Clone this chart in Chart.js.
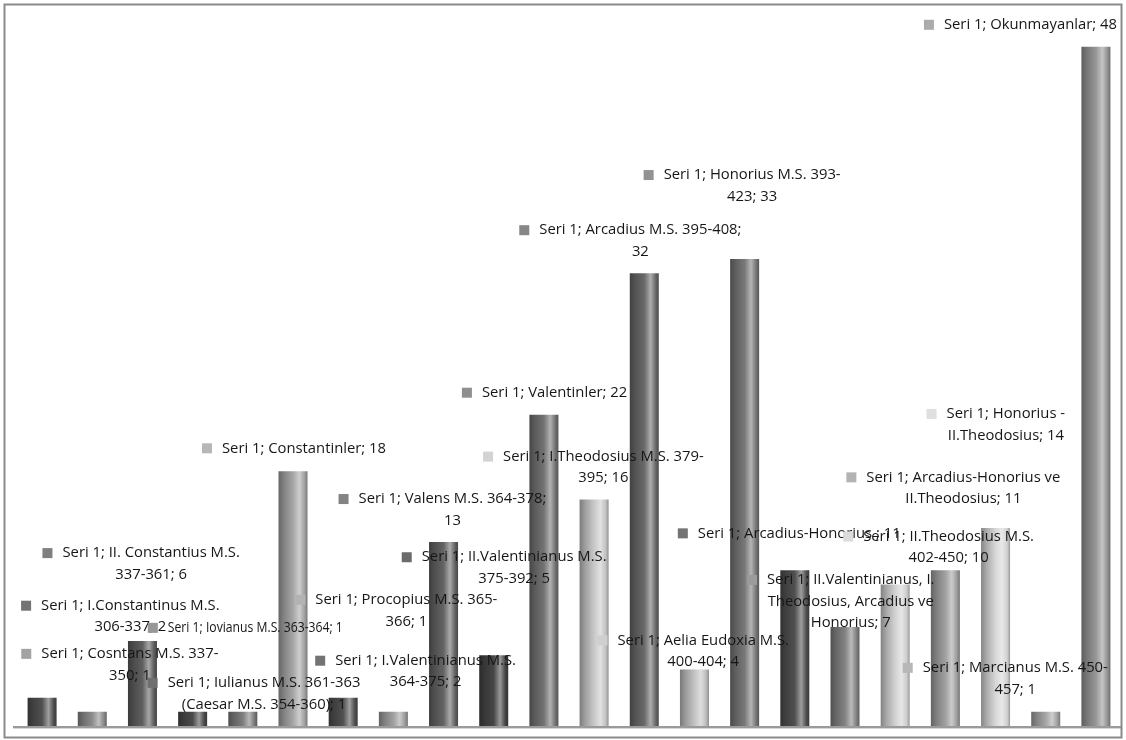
<!DOCTYPE html>
<html lang="tr">
<head>
<meta charset="utf-8">
<title>Seri 1</title>
<script src="https://cdn.jsdelivr.net/npm/chart.js@4.4.1/dist/chart.umd.min.js"></script>
<style>
    html, body { margin: 0; padding: 0; background: #fff; }
    canvas { display: block; }
</style>
</head>
<body>
<canvas id="barChart" width="1126" height="740"></canvas>
<script>
// Seri 1 – dönemlere göre sikke sayıları (silindir sütun grafik)

const seriAdi = "Seri 1";

const kategoriler = [
    "I.Constantinus M.S. 306-337",
    "Cosntans M.S. 337-350",
    "II. Constantius M.S. 337-361",
    "Iulianus M.S. 361-363 (Caesar M.S. 354-360)",
    "Iovianus M.S. 363-364",
    "Constantinler",
    "I.Valentinianus M.S. 364-375",
    "Procopius M.S. 365-366",
    "Valens M.S. 364-378",
    "II.Valentinianus M.S. 375-392",
    "Valentinler",
    "I.Theodosius M.S. 379-395",
    "Arcadius M.S. 395-408",
    "Aelia Eudoxia M.S. 400-404",
    "Honorius M.S. 393-423",
    "Arcadius-Honorius ",
    "II.Valentinianus, I. Theodosius, Arcadius ve Honorius",
    "II.Theodosius M.S. 402-450",
    "Arcadius-Honorius ve II.Theodosius",
    "Honorius - II.Theodosius",
    "Marcianus M.S. 450-457",
    "Okunmayanlar"
];

const degerler = [2, 1, 6, 1, 1, 18, 2, 1, 13, 5, 22, 16, 32, 4, 33, 11, 7, 10, 11, 14, 1, 48];

// etiket metinleri (Excel'deki satır kırılımlarıyla)
const etiketSatirlari = [
    ["Seri 1; I.Constantinus M.S.", "306-337; 2"],
    ["Seri 1; Cosntans M.S. 337-", "350; 1"],
    ["Seri 1; II. Constantius M.S.", "337-361; 6"],
    ["Seri 1; Iulianus M.S. 361-363", "(Caesar M.S. 354-360); 1"],
    ["Seri 1; Iovianus M.S. 363-364; 1"],
    ["Seri 1; Constantinler; 18"],
    ["Seri 1; I.Valentinianus M.S.", "364-375; 2"],
    ["Seri 1; Procopius M.S. 365-", "366; 1"],
    ["Seri 1; Valens M.S. 364-378;", "13"],
    ["Seri 1; II.Valentinianus M.S.", "375-392; 5"],
    ["Seri 1; Valentinler; 22"],
    ["Seri 1; I.Theodosius M.S. 379-", "395; 16"],
    ["Seri 1; Arcadius M.S. 395-408;", "32"],
    ["Seri 1; Aelia Eudoxia M.S.", "400-404; 4"],
    ["Seri 1; Honorius M.S. 393-", "423; 33"],
    ["Seri 1; Arcadius-Honorius ; 11"],
    ["Seri 1; II.Valentinianus, I.", "Theodosius, Arcadius ve", "Honorius; 7"],
    ["Seri 1; II.Theodosius M.S.", "402-450; 10"],
    ["Seri 1; Arcadius-Honorius ve", "II.Theodosius; 11"],
    ["Seri 1; Honorius -", "II.Theodosius; 14"],
    ["Seri 1; Marcianus M.S. 450-", "457; 1"],
    ["Seri 1; Okunmayanlar; 48"]
];

// sütunların gri tonu (0-255)
const griTonlari = [80, 140, 95, 75, 125, 165, 80, 160, 100, 70, 115, 200,
                    105, 195, 120, 80, 130, 210, 160, 215, 165, 150];

// etiket yeri: sütun ortası ve tepesine göre kayma (işaret sol kenarı, ilk satır ortası)
const etiketKayma = [
    [-21, -92], [-71, -58], [-100, -88], [-45, -29], [-95, -84], [-91, -23],
    [-28, -37], [-98, -112], [-105, -43], [-92, -98], [-82, -22], [-111, -43],
    [-125, -43], [-97, -29], [-101, -84], [-117, -37], [-98, -47], [-52, -48],
    [-99, -93], [-69, -114], [-143, -44], [-172, -22]
];
// sıkıştırılmış etiket (Iovianus)
const etiketSikistir = [null, null, null, null, 175];

const SUTUN_ORANI = 0.578;

function gri(g) {
    g = Math.max(0, Math.min(255, Math.round(g)));
    return "rgb(" + g + "," + g + "," + g + ")";
}

function silindirRengi(context) {
    const chart = context.chart;
    const g = griTonlari[context.dataIndex];
    if (!chart.chartArea) return gri(g);
    const xs = chart.scales.x;
    const cx = xs.getPixelForValue(context.dataIndex);
    const w = xs.width / degerler.length * SUTUN_ORANI;
    const grad = chart.ctx.createLinearGradient(cx - w / 2, 0, cx + w / 2, 0);
    grad.addColorStop(0, gri(g * 0.62));
    grad.addColorStop(0.2, gri(g * 0.8));
    grad.addColorStop(0.5, gri(g));
    grad.addColorStop(0.72, gri(g + (255 - g) * 0.45));
    grad.addColorStop(0.9, gri(g * 0.97));
    grad.addColorStop(1, gri(g * 0.72));
    return grad;
}

const etiketPlugin = {
    id: "etiketler",
    beforeDatasetsDraw(chart) {
        const ctx = chart.ctx;
        const y0 = chart.scales.y.getPixelForValue(0);
        ctx.save();
        ctx.strokeStyle = "#9a9a9a";
        ctx.lineWidth = 2;
        ctx.beginPath();
        ctx.moveTo(13, y0 + 1);
        ctx.lineTo(chart.chartArea.right, y0 + 1);
        ctx.stroke();
        ctx.strokeStyle = "#d8d8d8";
        ctx.lineWidth = 1;
        ctx.beginPath();
        ctx.moveTo(13, y0 + 2.5);
        ctx.lineTo(chart.chartArea.right, y0 + 2.5);
        ctx.stroke();
        ctx.restore();
    },
    afterDatasetsDraw(chart) {
        const ctx = chart.ctx;
        const bars = chart.getDatasetMeta(0).data;
        ctx.save();
        ctx.font = "14.8px 'Open Sans'";
        ctx.textBaseline = "middle";
        ctx.textAlign = "center";
        bars.forEach((bar, i) => {
            const [dx, dy] = etiketKayma[i];
            const mx = bar.x + dx;
            const my = bar.y + dy;
            const g = griTonlari[i];
            ctx.fillStyle = gri(g + (255 - g) * 0.2);
            ctx.fillRect(mx, my - 5, 10, 10);

            const satirlar = etiketSatirlari[i];
            const maxW = etiketSikistir[i];
            const genislik = Math.max(...satirlar.map(s => {
                const w = ctx.measureText(s).width;
                return maxW ? Math.min(w, maxW) : w;
            }));
            const orta = mx + 20 + genislik / 2;
            ctx.fillStyle = "#161616";
            satirlar.forEach((s, k) => {
                if (maxW) ctx.fillText(s, orta, my + k * 21.5, maxW);
                else ctx.fillText(s, orta, my + k * 21.5);
            });
        });
        // grafik çerçevesi
        ctx.strokeStyle = "#8a8a8a";
        ctx.lineWidth = 2;
        ctx.strokeRect(4.5, 4.5, 1117, 733);
        ctx.restore();
    }
};

new Chart(document.getElementById("barChart"), {
    type: "bar",
    data: {
        labels: kategoriler,
        datasets: [{
            label: seriAdi,
            data: degerler,
            backgroundColor: silindirRengi,
            borderWidth: 0,
            categoryPercentage: SUTUN_ORANI,
            barPercentage: 1
        }]
    },
    options: {
        responsive: false,
        animation: false,
        devicePixelRatio: 1,
        layout: { padding: { left: 17, right: 5, top: 18.5, bottom: 14 } },
        plugins: {
            legend: { display: false },
            tooltip: { enabled: false }
        },
        scales: {
            x: { display: false },
            y: { display: false, min: 0, max: 50 }
        }
    },
    plugins: [etiketPlugin]
});
</script>
</body>
</html>
